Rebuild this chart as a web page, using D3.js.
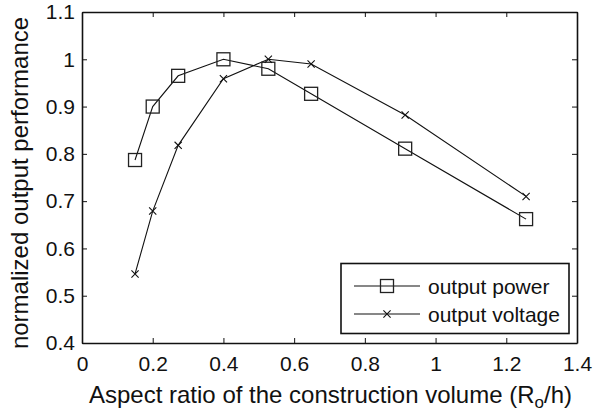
<!DOCTYPE html>
<html lang="en">
<head>
    <meta charset="UTF-8">
    <title>Normalized output performance</title>
    <script src="https://d3js.org/d3.v7.min.js"></script>
    <style>
        body { margin: 0; background: white; }
        svg { display: block; font-family: "Liberation Sans", Arial, sans-serif; }
        .axis path, .axis line { stroke: #111; }
        .axis text { font-size: 21px; fill: #111; }
    </style>
</head>
<body>
    <div id="chart"></div>

    <script>
        // Data
        const aspectRatio = [0.15, 0.2, 0.272, 0.4, 0.527, 0.648, 0.914, 1.256];
        const outputPower = [0.787, 0.9, 0.965, 1.0, 0.98, 0.927, 0.811, 0.662];
        const outputVoltage = [0.546, 0.679, 0.818, 0.959, 1.0, 0.99, 0.882, 0.71];
        const xTicks = [0, 0.2, 0.4, 0.6, 0.8, 1, 1.2, 1.4];
        const yTicks = [0.4, 0.5, 0.6, 0.7, 0.8, 0.9, 1, 1.1];
        const seriesNames = ["output power", "output voltage"];

        const width = 598, height = 412;
        const margin = { top: 12, right: 21, bottom: 69, left: 82 };
        const chartWidth = width - margin.left - margin.right;
        const chartHeight = height - margin.top - margin.bottom;

        const svg = d3.select("#chart")
            .append("svg")
            .attr("width", width)
            .attr("height", height);

        const g = svg.append("g")
            .attr("transform", `translate(${margin.left},${margin.top})`);

        const x = d3.scaleLinear().domain([0, 1.4]).range([0, chartWidth]);
        const y = d3.scaleLinear().domain([0.4, 1.1]).range([chartHeight, 0]);

        const fmt = d => d3.format("")(+d.toFixed(1));

        // Axes (ticks inward on all four sides)
        g.append("g").attr("class", "axis")
            .attr("transform", `translate(0,${chartHeight})`)
            .call(d3.axisBottom(x).tickValues(xTicks).tickFormat(fmt).tickSizeInner(-5).tickSizeOuter(0).tickPadding(13));
        g.append("g").attr("class", "axis")
            .call(d3.axisLeft(y).tickValues(yTicks).tickFormat(fmt).tickSizeInner(-5).tickSizeOuter(0).tickPadding(7));
        g.append("g").attr("class", "axis")
            .call(d3.axisTop(x).tickValues(xTicks).tickFormat("").tickSizeInner(-5).tickSizeOuter(0));
        g.append("g").attr("class", "axis")
            .attr("transform", `translate(${chartWidth},0)`)
            .call(d3.axisRight(y).tickValues(yTicks).tickFormat("").tickSizeInner(-5).tickSizeOuter(0));

        g.selectAll(".axis path").attr("stroke-width", 1.6);

        // Lines
        const line = d3.line().x(d => x(d[0])).y(d => y(d[1]));
        const powerPts = aspectRatio.map((v, i) => [v, outputPower[i]]);
        const voltPts = aspectRatio.map((v, i) => [v, outputVoltage[i]]);

        [powerPts, voltPts].forEach(pts => {
            g.append("path")
                .datum(pts)
                .attr("d", line)
                .attr("fill", "none")
                .attr("stroke", "#111")
                .attr("stroke-width", 1.1);
        });

        const sq = 13, cr = 3.6;
        function square(sel, cx, cy) {
            sel.append("rect")
                .attr("x", cx - sq / 2).attr("y", cy - sq / 2)
                .attr("width", sq).attr("height", sq)
                .attr("fill", "none").attr("stroke", "#222").attr("stroke-width", 1.3);
        }
        function cross(sel, cx, cy) {
            sel.append("path")
                .attr("d", `M${cx - cr},${cy - cr}L${cx + cr},${cy + cr}M${cx - cr},${cy + cr}L${cx + cr},${cy - cr}`)
                .attr("stroke", "#111").attr("stroke-width", 1.1);
        }

        powerPts.forEach(d => square(g, x(d[0]), y(d[1])));
        voltPts.forEach(d => cross(g, x(d[0]), y(d[1])));

        // Legend
        const lg = svg.append("g");
        lg.append("rect")
            .attr("x", 341).attr("y", 263.5).attr("width", 228).attr("height", 70)
            .attr("fill", "white").attr("stroke", "#111").attr("stroke-width", 1.6);
        seriesNames.forEach((name, i) => {
            const ly = 286 + i * 28;
            lg.append("line")
                .attr("x1", 354).attr("x2", 420).attr("y1", ly).attr("y2", ly)
                .attr("stroke", "#111").attr("stroke-width", 1.1);
            if (i === 0) square(lg, 387, ly); else cross(lg, 387, ly);
            lg.append("text")
                .attr("x", 428).attr("y", ly + 7.5)
                .attr("font-size", "21px").attr("fill", "#111")
                .text(name);
        });

        // Axis labels
        const xl = svg.append("text")
            .attr("x", margin.left + chartWidth / 2 + 1).attr("y", 403)
            .attr("text-anchor", "middle")
            .attr("font-size", "24px").attr("fill", "#111");
        xl.append("tspan").text("Aspect ratio of the construction volume (R");
        xl.append("tspan").attr("font-size", "17px").attr("dy", 5).text("o");
        xl.append("tspan").attr("dy", -5).text("/h)");

        svg.append("text")
            .attr("transform", `translate(28,${183}) rotate(-90)`)
            .attr("text-anchor", "middle")
            .attr("font-size", "24px").attr("fill", "#111")
            .text("normalized output performance");
    </script>
</body>
</html>
